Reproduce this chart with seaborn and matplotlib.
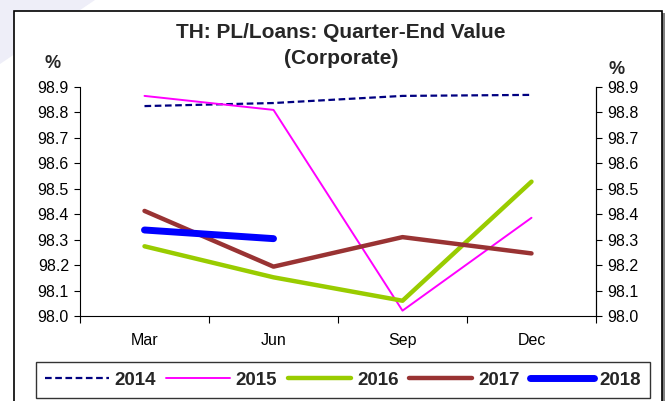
import matplotlib
matplotlib.use("Agg")
import matplotlib.pyplot as plt
import matplotlib.patches as mpatches
import seaborn as sns
import pandas as pd

# Quarter-end PL/Loans ratio (corporate), %
quarters = ["Mar", "Jun", "Sep", "Dec"]
y2014 = [98.825, 98.837, 98.865, 98.869]
y2015 = [98.865, 98.810, 98.021, 98.386]
y2016 = [98.274, 98.152, 98.060, 98.528]
y2017 = [98.413, 98.194, 98.310, 98.246]
y2018 = [98.338, 98.304]
yticks = [98.0, 98.1, 98.2, 98.3, 98.4, 98.5, 98.6, 98.7, 98.8, 98.9]

series = {"2014": y2014, "2015": y2015, "2016": y2016, "2017": y2017, "2018": y2018}
rows = []
for year, vals in series.items():
    for q, v in zip(quarters, vals):
        rows.append({"Quarter": q, "Year": year, "Value": v})
df = pd.DataFrame(rows)

sns.set_theme(style="white")
plt.rcParams["font.family"] = ["Liberation Sans", "DejaVu Sans"]

W, H = 669, 401
fig = plt.figure(figsize=(W / 100, H / 100), dpi=100)
fig.patch.set_facecolor("white")

def fx(px):
    return px / W

def fy(py):
    return 1 - py / H

# faint backdrop corner, chart frame with drop shadow
fig.patches.append(mpatches.Polygon([(fx(0), fy(0)), (fx(95), fy(0)), (fx(0), fy(64))],
                                    closed=True, transform=fig.transFigure,
                                    facecolor="#eeeef8", edgecolor="none", zorder=0))
fig.patches.append(mpatches.Rectangle((fx(16), fy(420)), fx(649), fy(13) - fy(420),
                                      transform=fig.transFigure, facecolor="#808080",
                                      edgecolor="none", zorder=0.5))
fig.patches.append(mpatches.Rectangle((fx(13.5), fy(420)), fx(648.5), fy(10.5) - fy(420),
                                      transform=fig.transFigure, facecolor="white",
                                      edgecolor="black", linewidth=1.2, zorder=1))

ax = fig.add_axes([fx(80), fy(316), fx(596) - fx(80), fy(87) - fy(316)])
ax.set_facecolor("none")
ax.set_zorder(3)

palette = {"2014": "#000080", "2015": "#ff00ff", "2016": "#99cc00",
           "2017": "#993333", "2018": "#0000ff"}
widths = {"2014": 1.6, "2015": 1.4, "2016": 3.2, "2017": 3.2, "2018": 5.0}

for year in series:
    sub = df[df["Year"] == year]
    sns.lineplot(data=sub, x="Quarter", y="Value", ax=ax, color=palette[year],
                 linewidth=widths[year], label=year, sort=False,
                 linestyle=(0, (3, 1.6)) if year == "2014" else "-",
                 solid_capstyle="round", dash_capstyle="butt")

ax.set_xlim(-0.5, 3.5)
ax.set_ylim(98.0, 98.9)
ax.set_yticks(yticks)
ax.set_yticklabels([f"{t:.1f}" for t in yticks], fontsize=11.5, color="black")
ax.set_xticks([-0.5, 0.5, 1.5, 2.5, 3.5])
ax.set_xticklabels([])
ax.set_xticks(range(len(quarters)), minor=True)
ax.set_xticklabels(quarters, minor=True, fontsize=11.5, color="black")
ax.tick_params(axis="x", which="major", direction="out", length=5, width=0.8,
               color="black", bottom=True)
ax.tick_params(axis="x", which="minor", length=0, pad=12)
ax.tick_params(axis="y", direction="out", length=4, width=0.8, color="black",
               left=True, pad=4)
ax.set_xlabel("")
ax.set_ylabel("")
for side in ["left", "bottom", "right"]:
    ax.spines[side].set_visible(True)
    ax.spines[side].set_color("black")
    ax.spines[side].set_linewidth(0.8)
ax.spines["top"].set_visible(False)

ax2 = ax.twinx()
ax2.set_ylim(98.0, 98.9)
ax2.set_yticks(yticks)
ax2.set_yticklabels([f"{t:.1f}" for t in yticks], fontsize=11.5, color="black")
ax2.tick_params(axis="y", direction="out", length=4, width=0.8, color="black",
                right=True, pad=4)
for side in ["left", "bottom", "top"]:
    ax2.spines[side].set_visible(False)
ax2.spines["right"].set_color("black")
ax2.spines["right"].set_linewidth(0.8)
ax2.grid(False)
ax.grid(False)

handles, labels = ax.get_legend_handles_labels()
ax.legend_.remove()
leg = fig.legend(handles, labels, loc="center", ncol=5,
                 bbox_to_anchor=(fx(343), fy(380)), frameon=True, fancybox=False,
                 edgecolor="#333333", framealpha=1, handlelength=3.4,
                 columnspacing=0.55, handletextpad=0.3, borderpad=0.5,
                 prop={"weight": "bold", "size": 13.5})
leg.get_frame().set_linewidth(1.0)
leg.set_zorder(5)

fig.text(fx(341), fy(33), "TH: PL/Loans: Quarter-End Value", ha="center", va="center",
         fontsize=15, fontweight="bold", zorder=5)
fig.text(fx(341), fy(58), "(Corporate)", ha="center", va="center",
         fontsize=15, fontweight="bold", zorder=5)
fig.text(fx(53), fy(64), "%", ha="center", va="center", fontsize=13,
         fontweight="bold", zorder=5)
fig.text(fx(617), fy(70), "%", ha="center", va="center", fontsize=13,
         fontweight="bold", zorder=5)

fig.savefig("out.png", dpi=100, facecolor="white")
